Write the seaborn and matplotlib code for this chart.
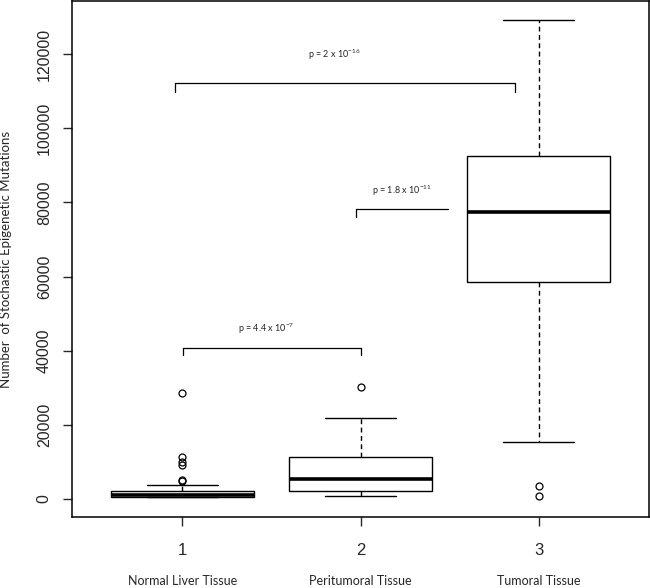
import numpy as np
import pandas as pd
import matplotlib
matplotlib.use("Agg")
import matplotlib.pyplot as plt
import seaborn as sns

# values (sorted samples reproducing the box statistics)
normal_liver = [460, 520, 560, 590, 620, 640, 660, 670, 700, 740, 800, 850, 900, 930,
                950, 1050, 1200, 1350, 1500, 1700, 1900, 2160, 3776, 4855, 5100,
                9170, 10060, 11250, 28500]
peritumoral = [720, 1300, 1800, 2160, 3000, 4200, 5480, 7000, 9500, 11400, 16000,
               21850, 30290]
tumoral = [800, 3500, 15290, 42000, 58440, 64000, 70000, 74000, 77500, 82000, 86000,
           89000, 92600, 98000, 105000, 116000, 129200]

group_names = ["Normal Liver Tissue", "Peritumoral Tissue", "Tumoral Tissue"]
tick_labels = ["1", "2", "3"]

# significance brackets: x start, x end, bar height, drop heights (None = no drop)
bracket_x0 = [-0.04, 0.974, 0.006]
bracket_x1 = [1.87, 1.49, 1.004]
bracket_y = [112100, 78130, 40640]
bracket_left_drop = [109800, 76130, 38840]
bracket_right_drop = [109800, None, 38840]
p_text = ["p = 2 x 10$^{-16}$", "p = 1.8 x 10$^{-11}$", "p = 4.4 x 10$^{-7}$"]
p_text_x = [0.85, 1.23, 0.47]
p_text_y = [119700, 83070, 45850]

df = pd.DataFrame({
    "group": [group_names[0]] * len(normal_liver)
    + [group_names[1]] * len(peritumoral)
    + [group_names[2]] * len(tumoral),
    "value": normal_liver + peritumoral + tumoral,
})

sns.set_style("white")
plt.rcParams["font.family"] = ["Liberation Sans", "DejaVu Sans"]
plt.rcParams["mathtext.fontset"] = "custom"
plt.rcParams["mathtext.rm"] = "Lato"
plt.rcParams["mathtext.it"] = "Lato:italic"
plt.rcParams["mathtext.default"] = "regular"

fig = plt.figure(figsize=(6.5, 5.88), dpi=100)
ax = fig.add_axes([72 / 650, 1 - 517 / 588, 577 / 650, 516 / 588])

sns.boxplot(
    data=df, x="group", y="value", order=group_names, ax=ax,
    color="white", linecolor="black", linewidth=1.0, width=0.8, whis=1.5,
    medianprops=dict(linewidth=2.6, color="black"),
    whiskerprops=dict(linestyle=(0, (3.5, 2.5)), color="black"),
    flierprops=dict(marker="o", markerfacecolor="none", markeredgecolor="black",
                    markersize=5, markeredgewidth=0.9),
)

for i in range(len(bracket_y)):
    ax.plot([bracket_x0[i], bracket_x1[i]], [bracket_y[i], bracket_y[i]],
            color="black", lw=0.9)
    ax.plot([bracket_x0[i], bracket_x0[i]], [bracket_y[i], bracket_left_drop[i]],
            color="black", lw=0.9)
    if bracket_right_drop[i] is not None:
        ax.plot([bracket_x1[i], bracket_x1[i]], [bracket_y[i], bracket_right_drop[i]],
                color="black", lw=0.9)
    ax.text(p_text_x[i], p_text_y[i], p_text[i], ha="center", va="center",
            fontsize=6.5, family="Lato")

ax.set_xlim(-0.62, 2.62)
ax.set_ylim(-4855, 134300)
ax.set_xticks(range(3))
ax.set_xticklabels(tick_labels, fontsize=12)
ax.set_yticks(np.arange(0, 120001, 20000))
ax.set_yticklabels([str(v) for v in range(0, 120001, 20000)], fontsize=11.5,
                   rotation=90, va="center")
ax.tick_params(axis="x", length=6.5, width=1, pad=12, direction="out", bottom=True)
ax.tick_params(axis="y", length=6.5, width=1, pad=8, direction="out", left=True)

for i, name in enumerate(group_names):
    ax.text(i, -0.124, name, transform=ax.get_xaxis_transform(), ha="center",
            va="center", fontsize=9, family="Lato")

ax.set_xlabel("")
ax.set_ylabel("Number  of Stochastic Epigenetic Mutations", fontsize=9.5,
              family="Lato", labelpad=18)
for s in ax.spines.values():
    s.set_visible(True)
    s.set_color("black")
    s.set_linewidth(1.1)

fig.savefig("out.png", dpi=100)
